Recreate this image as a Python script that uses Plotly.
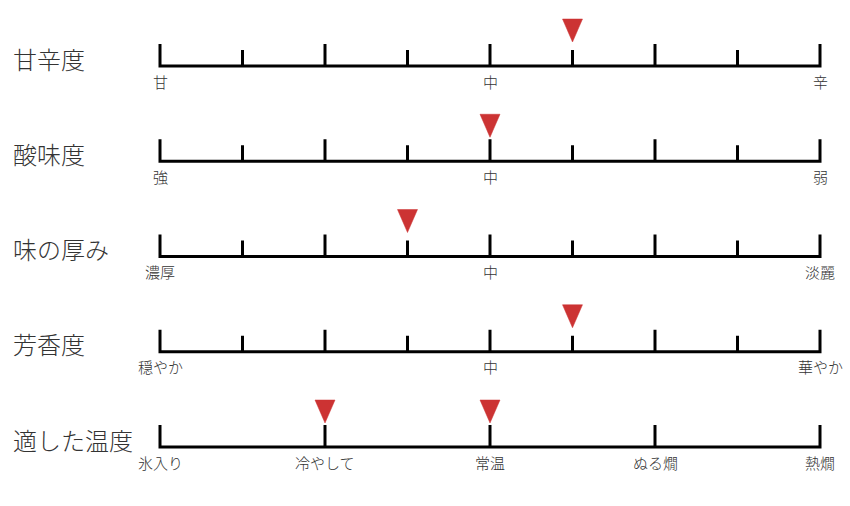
import plotly.graph_objects as go

# ---- data ----
row_titles = ["甘辛度", "酸味度", "味の厚み", "芳香度", "適した温度"]
left_labels = ["甘", "強", "濃厚", "穏やか"]
mid_label = "中"
right_labels = ["辛", "弱", "淡麗", "華やか"]
scale_steps = 8                      # 0..8 scale for the four taste rows
taste_values = [5, 4, 3, 5]          # marker positions for rows 1-4
temp_labels = ["氷入り", "冷やして", "常温", "ぬる燗", "熱燗"]
temp_positions = [0, 2, 4, 6, 8]
temp_values = [2, 4]                 # suitable temperatures (冷やして, 常温)

# ---- styling / geometry (pixels) ----
W, H = 850, 506
x0_px, x1_px = 160, 820
row0_px, row_gap_px = 66, 95.25
unit_px = (x1_px - x0_px) / scale_steps
tall_px, short_px = 22, 16
tri_half_px, tri_top_px, tri_tip_px = 10, 47, 24
FONT = "Noto Sans CJK JP, Noto Sans, sans-serif"
TXT = "#333333"
RED = "#cc3333"

xr = [-x0_px / unit_px, (W - x0_px) / unit_px]
yr = [(H - row0_px) / row_gap_px, -row0_px / row_gap_px]
def dy(px):
    return px / row_gap_px
def dx(px):
    return px / unit_px

fig = go.Figure()

def add_scale(r, positions, tall_set):
    # frame: left end tick, baseline, right end tick
    xs = [0, 0, scale_steps, scale_steps]
    ys = [r - dy(tall_px), r, r, r - dy(tall_px)]
    for p in positions:
        if p in (0, scale_steps):
            continue
        h = tall_px if p in tall_set else short_px
        xs += [None, p, p]
        ys += [None, r, r - dy(h)]
    fig.add_trace(go.Scatter(x=xs, y=ys, mode="lines",
                             line=dict(color="black", width=3),
                             hoverinfo="skip", showlegend=False))

def add_markers(r, vals):
    xs, ys = [], []
    for v in vals:
        xs += [v - dx(tri_half_px), v + dx(tri_half_px), v, v - dx(tri_half_px), None]
        ys += [r - dy(tri_top_px), r - dy(tri_top_px), r - dy(tri_tip_px), r - dy(tri_top_px), None]
    fig.add_trace(go.Scatter(x=xs, y=ys, mode="lines", fill="toself",
                             fillcolor=RED, line=dict(color=RED, width=0.5),
                             hoverinfo="skip", showlegend=False))

annotations = []
def label(x, r, text):
    annotations.append(dict(x=x, y=r, xref="x", yref="y", text=text,
                            showarrow=False, yshift=-15, xanchor="center",
                            yanchor="middle",
                            font=dict(family=FONT, size=15, color=TXT, weight=300)))

for r, title in enumerate(row_titles):
    annotations.append(dict(x=11 / W, y=r, xref="paper", yref="y", text=title,
                            showarrow=False, yshift=8, xanchor="left",
                            yanchor="middle",
                            font=dict(family=FONT, size=24, color=TXT, weight=300)))

for r in range(4):
    add_scale(r, list(range(scale_steps + 1)), {0, 2, 4, 6, 8})
    add_markers(r, [taste_values[r]])
    label(0, r, left_labels[r])
    label(scale_steps / 2, r, mid_label)
    label(scale_steps, r, right_labels[r])

add_scale(4, temp_positions, set(temp_positions))
add_markers(4, temp_values)
for p, t in zip(temp_positions, temp_labels):
    label(p, 4, t)

fig.update_layout(
    width=W, height=H,
    margin=dict(l=0, r=0, t=0, b=0),
    paper_bgcolor="white", plot_bgcolor="white",
    xaxis=dict(range=xr, visible=False, fixedrange=True),
    yaxis=dict(range=yr, visible=False, fixedrange=True),
    annotations=annotations,
    showlegend=False,
)
fig.write_html("out.html", config={"displayModeBar": False},
               post_script="document.body.style.margin='0';document.body.style.overflow='hidden';")
